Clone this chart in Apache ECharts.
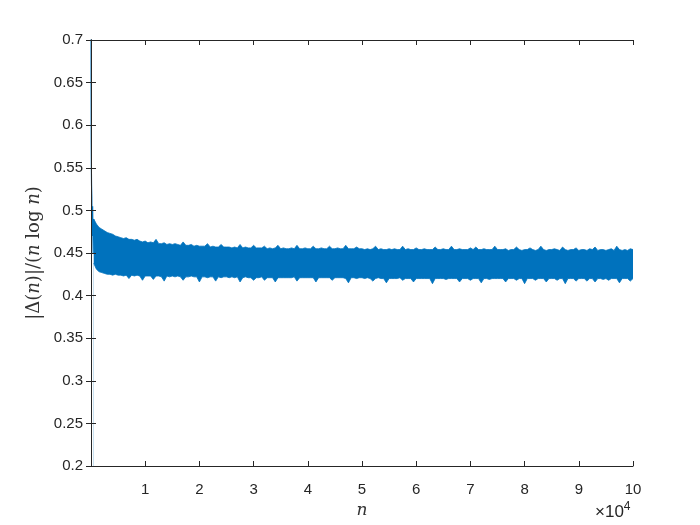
<!DOCTYPE html>
<html>
<head>
<meta charset="utf-8">
<script src="https://cdn.jsdelivr.net/npm/echarts@6/dist/echarts.min.js"></script>
<style>html,body{margin:0;padding:0;background:#fff}#c{width:700px;height:525px}</style>
</head>
<body>
<div id="c"></div>
<script>
// x tick labels (in units of 10^4)
const xTickLabels = ['', '1', '2', '3', '4', '5', '6', '7', '8', '9', '10'];
// initial transient (small n)
const earlyN = [2, 5, 10, 20, 40, 70, 100, 150, 200, 300, 400];
const earlyVal = [1.20, 0.86, 0.73, 0.64, 0.58, 0.55, 0.53, 0.515, 0.47, 0.505, 0.45];
// band sampled every 500 (n = 500, 1000, ..., 100000): upper and lower extent of the oscillation
const bandStep = 500;
const bandHigh = [
0.490,0.484,0.480,0.478,0.476,0.474,0.473,0.472,0.470,0.469,
0.468,0.467,0.468,0.466,0.466,0.465,0.466,0.464,0.463,0.464,
0.462,0.463,0.462,0.466,0.461,0.461,0.462,0.460,0.461,0.460,
0.461,0.460,0.459,0.463,0.459,0.459,0.460,0.458,0.459,0.458,
0.458,0.458,0.461,0.457,0.458,0.457,0.457,0.460,0.457,0.457,
0.457,0.456,0.457,0.456,0.460,0.456,0.457,0.456,0.456,0.459,
0.456,0.456,0.456,0.458,0.455,0.456,0.455,0.456,0.459,0.455,
0.456,0.455,0.455,0.456,0.455,0.459,0.455,0.455,0.456,0.455,
0.455,0.458,0.455,0.455,0.456,0.455,0.455,0.458,0.455,0.455,
0.456,0.455,0.455,0.459,0.455,0.455,0.455,0.457,0.455,0.455,
0.454,0.455,0.454,0.455,0.458,0.454,0.455,0.454,0.454,0.455,
0.454,0.455,0.454,0.454,0.458,0.454,0.455,0.454,0.454,0.456,
0.454,0.454,0.455,0.454,0.454,0.454,0.457,0.454,0.454,0.455,
0.454,0.454,0.458,0.454,0.454,0.455,0.454,0.454,0.454,0.456,
0.454,0.457,0.454,0.454,0.455,0.454,0.454,0.454,0.458,0.454,
0.454,0.454,0.455,0.453,0.454,0.454,0.457,0.454,0.453,0.454,
0.454,0.456,0.454,0.453,0.454,0.458,0.454,0.453,0.454,0.454,
0.455,0.454,0.453,0.457,0.454,0.453,0.454,0.454,0.456,0.453,
0.454,0.454,0.453,0.455,0.454,0.457,0.453,0.454,0.454,0.453,
0.454,0.455,0.453,0.458,0.454,0.453,0.454,0.453,0.455,0.454
];
const bandLow = [
0.438,0.431,0.428,0.427,0.426,0.425,0.425,0.424,0.425,0.424,
0.424,0.423,0.424,0.420,0.424,0.423,0.424,0.423,0.418,0.423,
0.423,0.423,0.419,0.423,0.423,0.422,0.417,0.423,0.422,0.423,
0.422,0.423,0.422,0.418,0.422,0.422,0.423,0.422,0.422,0.416,
0.422,0.422,0.421,0.422,0.422,0.417,0.422,0.421,0.422,0.422,
0.421,0.422,0.421,0.422,0.416,0.421,0.422,0.421,0.421,0.418,
0.421,0.421,0.422,0.418,0.421,0.421,0.421,0.416,0.421,0.421,
0.421,0.421,0.421,0.421,0.422,0.417,0.421,0.421,0.421,0.421,
0.421,0.421,0.416,0.421,0.421,0.421,0.421,0.421,0.418,0.421,
0.421,0.421,0.421,0.420,0.415,0.421,0.421,0.420,0.421,0.421,
0.420,0.421,0.420,0.417,0.420,0.421,0.420,0.420,0.415,0.420,
0.420,0.420,0.420,0.421,0.418,0.420,0.420,0.420,0.416,0.420,
0.420,0.420,0.420,0.420,0.420,0.414,0.420,0.420,0.420,0.420,
0.419,0.420,0.420,0.420,0.420,0.416,0.420,0.420,0.420,0.418,
0.420,0.420,0.420,0.415,0.420,0.420,0.419,0.420,0.420,0.420,
0.420,0.420,0.416,0.420,0.420,0.420,0.418,0.420,0.420,0.414,
0.420,0.420,0.420,0.418,0.420,0.420,0.420,0.416,0.420,0.420,
0.420,0.418,0.420,0.420,0.414,0.420,0.420,0.420,0.417,0.420,
0.420,0.420,0.417,0.420,0.420,0.416,0.420,0.420,0.419,0.420,
0.418,0.420,0.420,0.420,0.415,0.420,0.420,0.420,0.417,0.420
];

const blue = '#0072BD';
const axisColor = '#262626';
const bandN = bandHigh.map((_, i) => (i + 1) * bandStep);
const highData = bandN.map((n, i) => [n, bandHigh[i]]);
const lowData = bandN.map((n, i) => [n, bandLow[i]]);
const earlyData = earlyN.map((n, i) => [n, earlyVal[i]]);
earlyData.push([bandN[0], bandHigh[0]]);

const chart = echarts.init(document.getElementById('c'), null, {renderer: 'canvas'});
const tickFont = {fontFamily: 'Liberation Sans, Arial, sans-serif', fontSize: 15, color: axisColor};
const baseAxisLine = {show: true, lineStyle: {color: axisColor, width: 1}};
const mathU = {fontFamily: 'DejaVu Serif, serif', fontSize: 18, color: '#333333'};
const mathI = {fontFamily: 'DejaVu Serif, serif', fontStyle: 'italic', fontSize: 18, color: '#333333'};
chart.setOption({
  animation: false,
  backgroundColor: '#fff',
  grid: {left: 91, right: 67, top: 40, bottom: 59, containLabel: false},
  xAxis: [
    {type: 'value', min: 0, max: 100000, interval: 10000, position: 'bottom', z: 10,
     axisLine: baseAxisLine, axisTick: {show: true, inside: true, length: 5, lineStyle: {color: axisColor}},
     splitLine: {show: false},
     axisLabel: Object.assign({margin: 16, formatter: v => xTickLabels[Math.round(v / 10000)]}, tickFont),
     name: 'n', nameLocation: 'middle', nameGap: 32,
     nameTextStyle: Object.assign({}, mathI, {fontSize: 17})},
    {type: 'value', min: 0, max: 100000, interval: 10000, position: 'top', z: 10,
     axisLine: baseAxisLine, axisTick: {show: true, inside: true, length: 5, lineStyle: {color: axisColor}},
     splitLine: {show: false}, axisLabel: {show: false}}
  ],
  yAxis: [
    {type: 'value', min: 0.2, max: 0.7, interval: 0.05, position: 'left', z: 10,
     axisLine: baseAxisLine, axisTick: {show: true, inside: true, length: 5, lineStyle: {color: axisColor}},
     splitLine: {show: false},
     axisLabel: Object.assign({margin: 8, formatter: v => String(+v.toFixed(2))}, tickFont),
     name: '{u||Δ(}{i|n}{u|)|/(}{i|n}{u| log }{i|n}{u|)}', nameLocation: 'middle', nameGap: 47, nameRotate: 90,
     nameTextStyle: {rich: {u: mathU, i: mathI}}},
    {type: 'value', min: 0.2, max: 0.7, interval: 0.05, position: 'right', z: 10,
     axisLine: baseAxisLine, axisTick: {show: true, inside: true, length: 5, lineStyle: {color: axisColor}},
     splitLine: {show: false}, axisLabel: {show: false}}
  ],
  series: [
    {type: 'line', data: earlyData, symbol: 'none', clip: true,
     lineStyle: {color: blue, width: 1.2}, z: 5},
    {type: 'line', data: highData, symbol: 'none', clip: true,
     lineStyle: {color: blue, width: 0.8}, areaStyle: {color: blue, opacity: 1, origin: 'start'}, z: 3},
    {type: 'line', data: lowData, symbol: 'none', clip: true,
     lineStyle: {color: blue, width: 0.8}, areaStyle: {color: '#ffffff', opacity: 1, origin: 'start'}, z: 4}
  ],
  graphic: [
    {type: 'text', left: 595, top: 501, z: 20,
     style: {text: '{a|×10}{b|4}', rich: {
       a: {fontFamily: 'Liberation Sans, Arial, sans-serif', fontSize: 17, fill: axisColor, verticalAlign: 'bottom'},
       b: {fontFamily: 'Liberation Sans, Arial, sans-serif', fontSize: 12, fill: axisColor, verticalAlign: 'top', padding: [0, 0, 8, 0]}
     }}}
  ]
});
</script>
</body>
</html>
